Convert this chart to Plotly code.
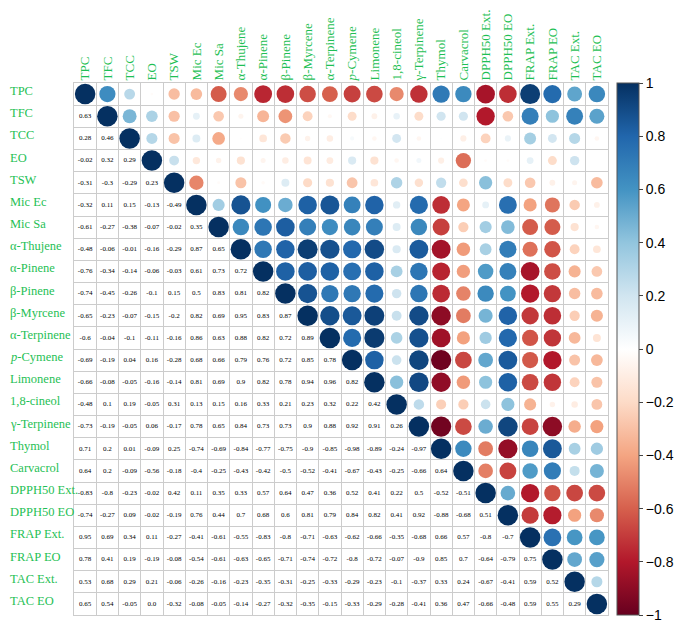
import numpy as np
import plotly.graph_objects as go

# -------------------
# Variables and lower-triangle correlations (read row by row)
# -------------------
labels = [
    "TPC", "TFC", "TCC", "EO", "TSW", "Mic Ec", "Mic Sa", "α-Thujene",
    "α-Pinene", "β-Pinene", "β-Myrcene", "α-Terpinene", "<i>p</i>-Cymene",
    "Limonene", "1,8-cineol", "γ-Terpinene", "Thymol", "Carvacrol",
    "DPPH50 Ext.", "DPPH50 EO", "FRAP Ext.", "FRAP EO", "TAC Ext.", "TAC EO",
]

lower = [
    [],
    [0.63],
    [0.28, 0.46],
    [-0.02, 0.32, 0.29],
    [-0.31, -0.3, -0.29, 0.23],
    [-0.32, 0.11, 0.15, -0.13, -0.49],
    [-0.61, -0.27, -0.38, -0.07, -0.02, 0.35],
    [-0.48, -0.06, -0.01, -0.16, -0.29, 0.87, 0.65],
    [-0.76, -0.34, -0.14, -0.06, -0.03, 0.61, 0.73, 0.72],
    [-0.74, -0.45, -0.26, -0.1, 0.15, 0.5, 0.83, 0.81, 0.82],
    [-0.65, -0.23, -0.07, -0.15, -0.2, 0.82, 0.69, 0.95, 0.83, 0.87],
    [-0.6, -0.04, -0.1, -0.11, -0.16, 0.86, 0.63, 0.88, 0.82, 0.72, 0.89],
    [-0.69, -0.19, 0.04, 0.16, -0.28, 0.68, 0.66, 0.79, 0.76, 0.72, 0.85, 0.78],
    [-0.66, -0.08, -0.05, -0.16, -0.14, 0.81, 0.69, 0.9, 0.82, 0.78, 0.94, 0.96, 0.82],
    [-0.48, 0.1, 0.19, -0.05, 0.31, 0.13, 0.15, 0.16, 0.33, 0.21, 0.23, 0.32, 0.22, 0.42],
    [-0.73, -0.19, -0.05, 0.06, -0.17, 0.78, 0.65, 0.84, 0.73, 0.73, 0.9, 0.88, 0.92, 0.91, 0.26],
    [0.71, 0.2, 0.01, -0.09, 0.25, -0.74, -0.69, -0.84, -0.77, -0.75, -0.9, -0.85, -0.98, -0.89,
     -0.24, -0.97],
    [0.64, 0.2, -0.09, -0.56, -0.18, -0.4, -0.25, -0.43, -0.42, -0.5, -0.52, -0.41, -0.67, -0.43,
     -0.25, -0.66, 0.64],
    [-0.83, -0.8, -0.23, -0.02, 0.42, 0.11, 0.35, 0.33, 0.57, 0.64, 0.47, 0.36, 0.52, 0.41,
     0.22, 0.5, -0.52, -0.51],
    [-0.74, -0.27, 0.09, -0.02, -0.19, 0.76, 0.44, 0.7, 0.68, 0.6, 0.81, 0.79, 0.84, 0.82,
     0.41, 0.92, -0.88, -0.68, 0.51],
    [0.95, 0.69, 0.34, 0.11, -0.27, -0.41, -0.61, -0.55, -0.83, -0.8, -0.71, -0.63, -0.62, -0.66,
     -0.35, -0.68, 0.66, 0.57, -0.8, -0.7],
    [0.78, 0.41, 0.19, -0.19, -0.08, -0.54, -0.61, -0.63, -0.65, -0.71, -0.74, -0.72, -0.8, -0.72,
     -0.07, -0.9, 0.85, 0.7, -0.64, -0.79, 0.75],
    [0.53, 0.68, 0.29, 0.21, -0.06, -0.26, -0.16, -0.23, -0.35, -0.31, -0.25, -0.33, -0.29, -0.23,
     -0.1, -0.37, 0.33, 0.24, -0.67, -0.41, 0.59, 0.52],
    [0.65, 0.54, -0.05, 0.0, -0.32, -0.08, -0.05, -0.14, -0.27, -0.32, -0.35, -0.15, -0.33, -0.29,
     -0.28, -0.41, 0.36, 0.47, -0.66, -0.48, 0.59, 0.55, 0.29],
]

cbar_ticks = [-1, -0.8, -0.6, -0.4, -0.2, 0, 0.2, 0.4, 0.6, 0.8, 1]

# -------------------
# Full symmetric matrix
# -------------------
n = len(labels)
corr = np.eye(n)
for i, row in enumerate(lower):
    for j, v in enumerate(row):
        corr[i, j] = v
        corr[j, i] = v

# corrplot RdBu palette (white centre)
rdbu = ["#67001F", "#B2182B", "#D6604D", "#F4A582", "#FDDBC7", "#FFFFFF",
        "#D1E5F0", "#92C5DE", "#4393C3", "#2166AC", "#053061"]
colorscale = [[k / 10, c] for k, c in enumerate(rdbu)]

green = "#1fbf55"
serif = "Liberation Serif, Times New Roman, serif"

# figure box (page adds an 8px body margin) and plot box in pixels
fig_w, fig_h = 677, 616
left, top = 66, 75
plot_w, plot_h = 534, 532
right = fig_w - left - plot_w
bottom = fig_h - top - plot_h

# upper triangle + diagonal -> circles
cx, cy, cv = [], [], []
for i in range(n):
    for j in range(i, n):
        cx.append(j + 1)
        cy.append(i + 1)
        cv.append(corr[i, j])
cv = np.array(cv)

# lower triangle -> numbers
tx, ty, tt = [], [], []
for i in range(n):
    for j in range(i):
        tx.append(j + 1)
        ty.append(i + 1)
        v = corr[i, j]
        tt.append("0.0" if v == 0 else f"{v:g}")

fig = go.Figure()

fig.add_trace(go.Scatter(
    x=cx, y=cy, mode="markers",
    marker=dict(
        size=20.5 * np.sqrt(np.abs(cv)),
        color=cv, colorscale=colorscale, cmin=-1, cmax=1,
        opacity=1, line=dict(width=0),
        showscale=True,
        colorbar=dict(
            x=(609 - left) / plot_w, xanchor="left", xpad=0,
            y=0.5, yanchor="middle", ypad=0,
            len=1, lenmode="fraction", thickness=22,
            tickvals=cbar_ticks, ticks="outside", ticklen=4,
            tickfont=dict(family="Liberation Sans, Arial", size=14, color="black"),
            outlinewidth=1, outlinecolor="#555",
        ),
    ),
    hovertemplate="%{x}, %{y}: %{marker.color:.2f}<extra></extra>",
    showlegend=False,
))

fig.add_trace(go.Scatter(
    x=tx, y=ty, mode="text", text=tt,
    textfont=dict(family=serif, size=7, color="black"),
    hoverinfo="skip", showlegend=False,
))

# row labels, left aligned like the original
for i, lab in enumerate(labels):
    fig.add_annotation(
        x=-left / plot_w, xref="paper", y=i + 1, yref="y",
        text=lab, showarrow=False, xanchor="left", yshift=3,
        font=dict(family=serif, size=12.5, color=green),
    )

grid = "#cccccc"
fig.update_xaxes(
    range=[0.5, n + 0.5], side="top", automargin=False,
    tickvals=list(range(1, n + 1)), ticktext=labels, tickangle=-90,
    tickfont=dict(family=serif, size=13, color=green), ticklabelstandoff=-1,
    showgrid=False, zeroline=False, ticks="",
    minor=dict(tick0=0.5, dtick=1, showgrid=True, gridcolor=grid, gridwidth=1),
    showline=True, mirror=True, linecolor=grid, linewidth=1,
)
fig.update_yaxes(
    range=[n + 0.5, 0.5], showticklabels=False, automargin=False,
    showgrid=False, zeroline=False, ticks="",
    minor=dict(tick0=0.5, dtick=1, showgrid=True, gridcolor=grid, gridwidth=1),
    showline=True, mirror=True, linecolor=grid, linewidth=1,
)

fig.update_layout(
    width=fig_w, height=fig_h,
    margin=dict(l=left, r=right, t=top, b=bottom, autoexpand=False),
    plot_bgcolor="white", paper_bgcolor="white",
)

fig.write_html("out.html")
